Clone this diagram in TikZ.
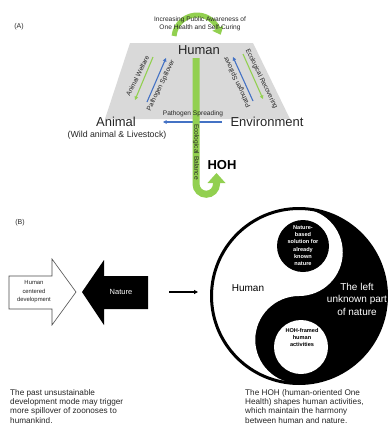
\documentclass[tikz,border=0pt]{standalone}
\usepackage{fontspec}
\setmainfont{Liberation Sans}
\usetikzlibrary{arrows.meta}
\definecolor{hgreen}{HTML}{92D050}
\definecolor{hblue}{HTML}{4472C4}
\definecolor{hgray}{HTML}{D9D9D9}
\begin{document}
\begin{tikzpicture}[x=1pt,y=-1pt,
  lbl/.style={inner sep=0pt, text=black!85},
  big/.style={lbl, font=\fontsize{13}{15}\selectfont},
  tiny/.style={lbl, font=\fontsize{6.6}{8}\selectfont},
  garrow/.style={hgreen, line width=1.1pt, -{Triangle[length=3.5pt,width=3.5pt]}},
  barrow/.style={hblue, line width=1.1pt, -{Triangle[length=3.5pt,width=3.5pt]}},
  bodytext/.style={lbl, anchor=north west, align=left, font=\fontsize{8.2}{9.3}\selectfont},
  circtext/.style={inner sep=0pt, align=center, font=\bfseries\fontsize{5.6}{7.3}\selectfont}
]
\useasboundingbox (0,0) rectangle (389,429);
\fill[white] (0,0) rectangle (389,429);

% ---------- Part A ----------
\node[lbl, font=\fontsize{7}{8}\selectfont] (labA) at (19,27) {(A)};
\fill[hgray] (130,43) -- (253,43) -- (290,119) -- (105,119) -- cycle;

\node[big] (human) at (199,50) {Human};
\node[big] (animal) at (116,122) {Animal};
\node[lbl, font=\fontsize{8.8}{10}\selectfont] (wild) at (117,135) {(Wild animal \& Livestock)};
\node[big] (env) at (267,122) {Environment};

% side arrows
\coordinate (gl1) at (153,57); \coordinate (gl2) at (135,100);
\coordinate (bl1) at (147,102); \coordinate (bl2) at (166,58);
\coordinate (br1) at (253,101); \coordinate (br2) at (233,57);
\coordinate (gr1) at (243,54); \coordinate (gr2) at (263,99);
\draw[garrow] (gl1) -- (gl2);
\draw[barrow] (bl1) -- (bl2);
\draw[barrow] (br1) -- (br2);
\draw[garrow] (gr1) -- (gr2);
\node[tiny, rotate=64] (aw) at (137.6,75.8) {Animal Welfare};
\node[tiny, rotate=64] (psl) at (161,85.5) {Pathogen Spillover};
\node[tiny, rotate=115] (psr) at (237.3,82) {Pathogen Spillover};
\node[tiny, rotate=-64] (er) at (261.5,79) {Ecological Recovering};

% bottom arrow
\coordinate (sp1) at (222,122); \coordinate (sp2) at (163,122);
\draw[barrow] (sp1) -- (sp2);

% top curved arrow
\draw[hgreen, line width=5pt] (174.1,36) arc[start angle=185, end angle=335, radius=23];
\fill[hgreen] (223.3,25.8) -- (220.7,34.7) -- (212.3,30.8) -- cycle;
\node[tiny, align=center] (aware) at (200,24) {Increasing Public Awareness of\\One Health and Self-Curing};

% vertical bar with U-turn
\coordinate (bartop) at (196,58);
\draw[hgreen, line width=7pt] (bartop) -- (196,184) arc[start angle=180, end angle=0, radius=10.25] -- (216.5,182.5);
\fill[hgreen] (207.5,183) -- (216.5,173) -- (225.5,183) -- cycle;
\node[tiny, rotate=-90] (eb) at (196,152) {Ecological Balance};
\node[tiny] (psp) at (193,114) {Pathogen Spreading};
\node[inner sep=0pt, font=\bfseries\fontsize{13}{15}\selectfont] (hoh) at (222,165) {HOH};

% ---------- Part B ----------
\node[lbl, font=\fontsize{7}{8}\selectfont] (labB) at (20,223) {(B)};
\draw[black!70, line width=0.6pt, fill=white] (9,276) -- (52,276) -- (52,259) -- (76,292) -- (52,325) -- (52,309) -- (9,309) -- cycle;
\fill[black] (82,292) -- (104,260) -- (104,276) -- (148,276) -- (148,309) -- (104,309) -- (104,325) -- cycle;
\node[lbl, align=center, font=\fontsize{5.9}{8.5}\selectfont] (hcd) at (34,292) {Human\\centered\\development};
\node[inner sep=0pt, text=white, font=\fontsize{7.5}{9}\selectfont] (nat) at (121,292) {Nature};
\coordinate (s1) at (169,292); \coordinate (s2) at (198,292);
\draw[line width=1.2pt, -{Triangle[length=4pt,width=4pt]}] (s1) -- (s2);

% yin-yang
\fill[black] (299,296) circle[radius=87.5];
\fill[white] (299,208.5) arc[start angle=270, end angle=90, radius=87.5]
  arc[start angle=90, end angle=270, radius=43.75]
  arc[start angle=90, end angle=-90, radius=43.75] -- cycle;
\draw[black, line width=3pt] (299,296) circle[radius=87.5];
\fill[black] (303,246) circle[radius=26];
\fill[white] (301,347) circle[radius=27];

\node[inner sep=0pt, text=black, font=\fontsize{10}{12}\selectfont] (yyh) at (248,288) {Human};
\node[inner sep=0pt, text=white, align=center, font=\fontsize{10}{12.5}\selectfont] (unk) at (357,299) {The left\\unknown part\\of nature};
\node[circtext, text=white] (nbst) at (303,245.5) {Nature-\\based\\solution for\\already\\known\\nature};
\node[circtext, text=black] (hft) at (302,337.5) {HOH-framed\\human\\activities};

% captions
\node[bodytext] (ltxt) at (10,389) {The past unsustainable\\development mode may trigger\\more spillover of zoonoses to\\humankind.};
\node[bodytext] (rtxt) at (245,389) {The HOH (human-oriented One\\Health) shapes human activities,\\which maintain the harmony\\between human and nature.};
\end{tikzpicture}
\end{document}
